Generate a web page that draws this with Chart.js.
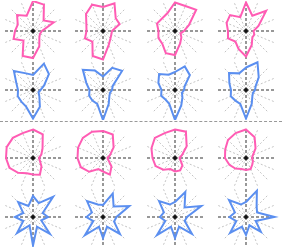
<!DOCTYPE html>
<html><head><meta charset="utf-8">
<script src="https://cdn.jsdelivr.net/npm/chart.js@4.4.0/dist/chart.umd.min.js"></script>
<style>
html,body{margin:0;padding:0;background:#fff;}
#wrap{position:relative;width:282px;height:250px;overflow:hidden;}
canvas{position:absolute;}
#sep{position:absolute;left:0;top:121px;width:282px;height:0;border-top:1px dashed #999;}
</style></head><body>
<div id="wrap"><div id="sep"></div></div>
<script>
const labels = ['0','1','2','3','4','5','6','7','8','9','10','11','12','13','14','15'];
// top half, pink row
const pinkA1 = [1.0,0.95,0.5,0.75,0.3,0.25,0.3,0.55,0.9,0.9,0.45,0.7,0.6,0.55,0.75,0.55];
const pinkA2 = [0.8,1.0,0.6,0.6,0.3,0.3,0.35,0.5,0.95,0.9,0.5,0.65,0.55,0.6,0.8,0.95];
const pinkA3 = [0.95,0.9,1.0,0.5,0.3,0.2,0.3,0.45,0.8,0.8,0.6,0.6,0.55,0.65,0.6,0.65];
const pinkA4 = [0.95,0.55,0.95,0.45,0.25,0.3,0.3,0.5,0.85,0.65,0.5,0.65,0.6,0.7,0.75,0.5];
// top half, blue row
const blueA1 = [0.5,0.95,0.75,0.4,0.25,0.2,0.3,0.6,0.95,0.6,0.55,0.55,0.5,0.6,0.9,0.6];
const blueA2 = [0.45,0.8,0.9,0.35,0.3,0.25,0.3,0.5,1.0,0.5,0.5,0.5,0.45,0.6,0.95,0.7];
const blueA3 = [0.6,0.85,0.7,0.35,0.3,0.25,0.35,0.55,1.0,0.5,0.45,0.5,0.45,0.6,0.75,0.55];
const blueA4 = [0.75,1.0,0.6,0.35,0.3,0.25,0.3,0.5,0.95,0.5,0.5,0.55,0.5,0.6,0.8,0.6];
// bottom half, pink row
const pinkB1 = [0.95,0.85,0.45,0.3,0.2,0.25,0.4,0.6,0.55,0.55,0.7,0.85,0.9,0.95,0.95,0.9];
const pinkB2 = [0.9,0.85,0.5,0.25,0.15,0.2,0.4,0.6,0.45,0.4,0.65,0.8,0.85,0.9,0.95,0.95];
const pinkB3 = [0.95,0.95,0.55,0.25,0.15,0.2,0.35,0.45,0.45,0.4,0.55,0.7,0.75,0.85,0.95,0.9];
const pinkB4 = [0.95,0.75,0.45,0.25,0.2,0.25,0.3,0.4,0.4,0.4,0.5,0.6,0.7,0.75,0.85,0.9];
// bottom half, blue row
const blueB1 = [0.7,0.5,0.95,0.35,0.5,0.3,0.8,0.35,0.95,0.3,0.75,0.35,0.6,0.35,0.7,0.4];
const blueB2 = [0.4,0.85,0.5,0.95,0.45,0.4,0.8,0.35,0.7,0.35,0.85,0.35,0.55,0.4,0.75,0.45];
const blueB3 = [0.5,0.9,0.45,0.95,0.4,0.35,0.8,0.35,0.7,0.35,0.85,0.35,0.5,0.4,0.75,0.45];
const blueB4 = [0.5,0.95,0.5,0.4,0.95,0.35,0.7,0.3,0.6,0.35,0.75,0.35,0.55,0.4,0.8,0.45];
const centerDot = [0];

const PINK = '#ff5cb4';
const BLUE = '#5b8ff0';
const rowTops = [1, 60, 128, 187];
const colLefts = [0, 70, 142, 213];
const charts = [
  [pinkA1,pinkA2,pinkA3,pinkA4],
  [blueA1,blueA2,blueA3,blueA4],
  [pinkB1,pinkB2,pinkB3,pinkB4],
  [blueB1,blueB2,blueB3,blueB4]
];
const rowColors = [PINK, BLUE, PINK, BLUE];
const wrap = document.getElementById('wrap');
charts.forEach((row, r) => {
  row.forEach((vals, c) => {
    const cv = document.createElement('canvas');
    cv.width = 66; cv.height = 60;
    cv.style.left = colLefts[c] + 'px';
    cv.style.top = rowTops[r] + 'px';
    cv.style.width = '66px'; cv.style.height = '60px';
    wrap.appendChild(cv);
    new Chart(cv, {
      type: 'radar',
      data: {
        labels: labels,
        datasets: [
          {data: vals, borderColor: rowColors[r], backgroundColor: 'rgba(0,0,0,0)', borderWidth: 2, pointRadius: 0, fill: false},
          {data: centerDot, borderColor: '#111', backgroundColor: '#111', borderWidth: 0, pointRadius: 2, showLine: false}
        ]
      },
      options: {
        responsive: false,
        animation: false,
        layout: {padding: 0},
        plugins: {legend: {display: false}, tooltip: {enabled: false}},
        scales: {
          r: {
            min: 0, max: 1,
            ticks: {display: false, stepSize: 0.25},
            grid: {display: false},
            pointLabels: {display: false},
            angleLines: {
              display: true,
              color: ctx => (ctx.index % 4 === 0) ? '#777' : '#c4c4c4',
              lineWidth: ctx => (ctx.index % 4 === 0) ? 1.5 : 1,
              borderDash: ctx => (ctx.index % 4 === 0) ? [3, 2] : [2, 2]
            }
          }
        }
      }
    });
  });
});
</script>
</body></html>
